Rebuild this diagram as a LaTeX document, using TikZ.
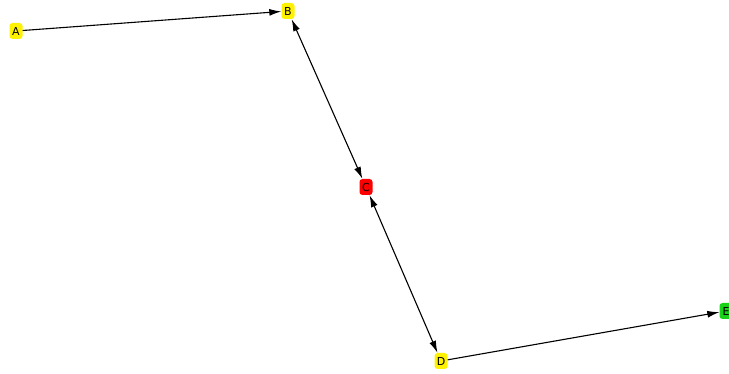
\documentclass[tikz,border=0pt]{standalone}
\usepackage{fontspec}
\setmainfont{DejaVu Sans}
\usetikzlibrary{arrows.meta}
\begin{document}
\begin{tikzpicture}[x=1pt,y=-1pt,
  vert/.style={draw=none,rounded corners=3pt,inner sep=0pt,minimum width=13pt,minimum height=16pt,font=\fontsize{11}{11}\selectfont},
  edge/.style={line width=1.1pt,-{Latex[length=12pt,width=7pt]}},
  bedge/.style={line width=1.1pt,{Latex[length=12pt,width=7pt]}-{Latex[length=12pt,width=7pt]}}]
\useasboundingbox (0,0) rectangle (729,374);
\node[vert,fill=yellow] (A) at (16,31) {A};
\node[vert,fill=yellow] (B) at (288,11) {B};
\node[vert,fill=red] (C) at (366,187) {C};
\node[vert,fill=yellow] (D) at (441,361) {D};
\node[vert,fill=green!80!black!90] (E) at (726,311) {E};
\draw[edge] (A) -- (B);
\draw[bedge] (B) -- (C);
\draw[bedge] (C) -- (D);
\draw[edge] (D) -- (E);
\end{tikzpicture}
\end{document}
